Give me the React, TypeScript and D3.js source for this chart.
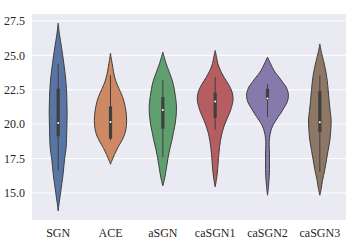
import React, { useEffect, useRef } from 'react';
import * as d3 from 'd3';

// categories and colours
const categories = ['SGN', 'ACE', 'aSGN', 'caSGN1', 'caSGN2', 'caSGN3'];
const colors = ['#5875a4', '#cc8963', '#5f9e6e', '#b55d60', '#857aab', '#8d7866'];

// violin outlines: [value, density]
const sgnDensity = [[27.33, 0], [26.5, 4], [25.6, 10], [24.4, 17], [23.2, 23], [22.0, 26], [20.8, 27], [19.6, 26], [18.3, 24], [17.4, 19], [16.4, 15], [15.5, 10], [14.96, 7], [14.3, 3], [13.7, 0]];
const aceDensity = [[25.16, 0], [24.8, 2], [24.4, 5], [23.8, 9], [23.2, 15], [22.6, 25], [22.0, 36], [21.3, 44], [20.6, 48], [19.9, 48], [19.3, 43], [18.8, 34], [18.3, 22], [17.8, 12], [17.4, 5], [17.09, 0]];
const asgnDensity = [[25.23, 0], [24.8, 5], [24.4, 10], [23.8, 19], [23.2, 28], [22.6, 34], [22.0, 38], [21.3, 41], [20.6, 40], [20.0, 37], [19.4, 32], [18.8, 27], [18.2, 21], [17.6, 16], [17.0, 12], [16.4, 8], [15.9, 4], [15.52, 0]];
const casgn1Density = [[25.35, 0], [24.9, 4], [24.4, 8], [23.9, 16], [23.4, 27], [22.9, 40], [22.4, 50], [21.85, 54], [21.3, 50], [20.8, 43], [20.3, 34], [19.8, 26], [19.3, 20], [18.8, 16], [18.3, 13], [17.8, 11], [17.2, 9], [16.6, 7], [16.0, 4], [15.45, 0]];
const casgn2Density = [[24.87, 0], [24.5, 7], [24.1, 15], [23.7, 25], [23.4, 35], [23.0, 47], [22.7, 56], [22.3, 62], [22.0, 63], [21.6, 59], [21.2, 50], [20.8, 40], [20.3, 26], [19.9, 16], [19.5, 10], [19.0, 6], [18.5, 5], [17.9, 6], [17.3, 6], [16.7, 6], [16.1, 5], [15.5, 3], [14.84, 0]];
const casgn3Density = [[25.83, 0], [25.3, 4], [24.9, 8], [24.3, 14], [23.7, 19], [23.2, 22], [22.5, 25], [21.7, 28], [21.0, 31], [20.3, 34], [19.6, 33], [18.8, 30], [18.1, 25], [17.4, 20], [16.7, 15], [15.9, 8], [15.3, 4], [14.84, 0]];
const densities = [sgnDensity, aceDensity, asgnDensity, casgn1Density, casgn2Density, casgn3Density];

// box stats: whisker low, q1, median, q3, whisker high
const whiskerLo = [16.65, 18.83, 17.62, 19.6, 20.52, 16.53];
const q1 = [19.12, 18.95, 19.67, 20.45, 21.77, 19.43];
const median = [20.08, 20.16, 21.03, 21.65, 21.87, 20.13];
const q3 = [22.57, 21.29, 21.97, 22.28, 22.57, 22.4];
const whiskerHi = [24.38, 23.54, 23.22, 23.42, 22.89, 23.54];

const yTicks = [15.0, 17.5, 20.0, 22.5, 25.0, 27.5];

export default function App() {
  const ref = useRef<SVGSVGElement>(null);

  useEffect(() => {
    const width = 350;
    const height = 248;
    const margin = { top: 14, right: 4, bottom: 28, left: 32 };
    const plotW = width - margin.left - margin.right;
    const plotH = height - margin.top - margin.bottom;

    const svg = d3.select(ref.current);
    svg.selectAll('*').remove();

    const chart = svg.append('g')
      .attr('transform', `translate(${margin.left}, ${margin.top})`);

    chart.append('rect')
      .attr('width', plotW)
      .attr('height', plotH)
      .attr('fill', '#eaeaf2');

    const yScale = d3.scaleLinear()
      .domain([13.04, 28.0])
      .range([plotH, 0]);

    const xScale = d3.scaleBand()
      .domain(categories)
      .range([0, plotW])
      .padding(0);

    // grid
    chart.selectAll('.grid')
      .data(yTicks)
      .enter()
      .append('line')
      .attr('x1', 0)
      .attr('x2', plotW)
      .attr('y1', d => yScale(d))
      .attr('y2', d => yScale(d))
      .attr('stroke', '#ffffff')
      .attr('stroke-width', 1);

    const maxDensity = d3.max(densities.flat(), d => d[1]) as number;
    const halfMax = xScale.bandwidth() * 0.8 / 2;
    const wScale = d3.scaleLinear().domain([0, maxDensity]).range([0, halfMax]);

    categories.forEach((cat, i) => {
      const cx = (xScale(cat) as number) + xScale.bandwidth() / 2;
      const area = d3.area<number[]>()
        .y(d => yScale(d[0]))
        .x0(d => cx - wScale(d[1]))
        .x1(d => cx + wScale(d[1]))
        .curve(d3.curveCatmullRom);

      chart.append('path')
        .datum(densities[i])
        .attr('d', area)
        .attr('fill', colors[i])
        .attr('stroke', '#3f3f3f')
        .attr('stroke-width', 1);

      chart.append('line')
        .attr('x1', cx).attr('x2', cx)
        .attr('y1', yScale(whiskerLo[i]))
        .attr('y2', yScale(whiskerHi[i]))
        .attr('stroke', '#3f3f3f')
        .attr('stroke-width', 1);

      chart.append('line')
        .attr('x1', cx).attr('x2', cx)
        .attr('y1', yScale(q1[i]))
        .attr('y2', yScale(q3[i]))
        .attr('stroke', '#3f3f3f')
        .attr('stroke-width', 3.2);

      chart.append('circle')
        .attr('cx', cx)
        .attr('cy', yScale(median[i]))
        .attr('r', 1)
        .attr('fill', '#ffffff');
    });

    const font = '"Liberation Serif", "Times New Roman", serif';

    chart.selectAll('.ylab')
      .data(yTicks)
      .enter()
      .append('text')
      .attr('x', -7)
      .attr('y', d => yScale(d))
      .attr('dy', '0.35em')
      .attr('text-anchor', 'end')
      .attr('font-family', font)
      .attr('font-size', 12)
      .attr('fill', '#262626')
      .text(d => d.toFixed(1));

    chart.selectAll('.xlab')
      .data(categories)
      .enter()
      .append('text')
      .attr('x', d => (xScale(d) as number) + xScale.bandwidth() / 2)
      .attr('y', plotH + 17)
      .attr('text-anchor', 'middle')
      .attr('font-family', font)
      .attr('font-size', 12)
      .attr('fill', '#262626')
      .text(d => d);
  }, []);

  return (
    <svg ref={ref} width={350} height={248}
      style={{ position: 'absolute', left: 0, top: 0, background: '#ffffff' }} />
  );
}
